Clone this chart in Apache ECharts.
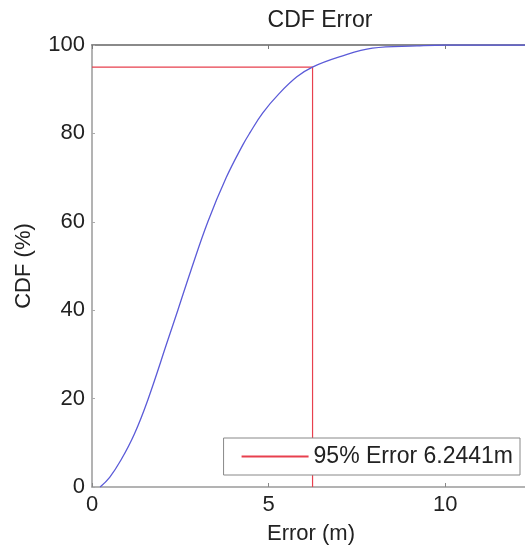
<!DOCTYPE html>
<html>
<head>
<meta charset="utf-8">
<script src="https://cdn.jsdelivr.net/npm/echarts@6/dist/echarts.min.js"></script>
<style>html,body{margin:0;padding:0;background:#fff;}#c{width:525px;height:548px;}</style>
</head>
<body>
<div id="c"></div>
<script>
const cdfErr = [0.23, 0.5, 0.82, 1.2, 1.58, 2.15, 2.43, 2.8, 3.28, 3.8, 4.27, 4.46, 4.83, 5.31, 5.8, 6.24, 7.0, 7.94, 9.2, 10.0, 12.4];
const cdfPct = [0, 2.2, 6.1, 12, 19.7, 33.3, 40, 49, 60, 70, 77.4, 80, 84.6, 89.1, 92.8, 95, 97.3, 99.3, 99.8, 100, 100];
const err95 = 6.2441;
const pct95 = 95;
const markerX = [0, err95, err95];
const markerY = [pct95, pct95, 0];
const legendName = '95% Error 6.2441m';
const xTicks = [0, 5, 10];
const yTicks = [0, 20, 40, 60, 80, 100];

const font = 'Liberation Sans, Arial, Helvetica, sans-serif';
const chart = echarts.init(document.getElementById('c'), null, {renderer: 'canvas'});
const axisCol = '#9a9a9a';
chart.setOption({
  animation: false,
  backgroundColor: '#fff',
  title: {
    text: 'CDF Error', left: 315, top: 4, textAlign: 'center',
    textStyle: {fontFamily: font, fontSize: 23, fontWeight: 'normal', color: '#222'}
  },
  grid: {left: 92, top: 45, width: 438, height: 442, containLabel: false, outerBoundsMode: 'none'},
  legend: {
    data: [legendName], right: 5, top: 438, orient: 'horizontal',
    itemWidth: 67, itemHeight: 14, itemGap: 0,
    padding: [7, 7, 7, 17],
    backgroundColor: '#fff', borderColor: '#888', borderWidth: 1,
    itemStyle: {color: 'rgba(0,0,0,0)', borderWidth: 0, opacity: 0},
    textStyle: {fontFamily: font, fontSize: 23, color: '#222'}
  },
  xAxis: [{
    type: 'value', min: 0, max: 12.4, interval: 5, position: 'bottom',
    name: 'Error (m)', nameLocation: 'middle', nameGap: 36,
    nameTextStyle: {fontFamily: font, fontSize: 22, color: '#222'},
    axisLine: {show: true, lineStyle: {color: axisCol, width: 1.5}},
    axisTick: {show: true, inside: true, length: 4, lineStyle: {color: '#888'}},
    axisLabel: {fontFamily: font, fontSize: 22, color: '#222', margin: 7,
      formatter: v => (xTicks.indexOf(v) >= 0 ? String(v) : '')},
    splitLine: {show: false}
  }, {
    type: 'value', min: 0, max: 12.4, interval: 5, position: 'top',
    axisLine: {show: true, lineStyle: {color: '#8a8a8a', width: 2}},
    axisTick: {show: true, inside: true, length: 4, lineStyle: {color: '#777'}},
    axisLabel: {show: false}, splitLine: {show: false}
  }],
  yAxis: [{
    type: 'value', min: 0, max: 100, interval: 20,
    name: 'CDF (%)', nameLocation: 'middle', nameGap: 57, nameRotate: 90,
    nameTextStyle: {fontFamily: font, fontSize: 22, color: '#222'},
    axisLine: {show: true, lineStyle: {color: axisCol, width: 1.5}},
    axisTick: {show: true, inside: true, length: 3, lineStyle: {color: '#aaa'}},
    axisLabel: {fontFamily: font, fontSize: 22, color: '#222', margin: 7,
      formatter: v => (yTicks.indexOf(v) >= 0 ? String(v) : '')},
    splitLine: {show: false}
  }],
  series: [{
    name: 'CDF', type: 'line', xAxisIndex: 0, yAxisIndex: 0,
    data: cdfErr.map((x, i) => [x, cdfPct[i]]),
    smooth: 0.4, symbol: 'none', clip: true,
    lineStyle: {color: '#5b5bd8', width: 1.3}
  }, {
    name: legendName, type: 'line', xAxisIndex: 0, yAxisIndex: 0,
    data: markerX.map((x, i) => [x, markerY[i]]),
    symbol: 'none', showSymbol: false, z: 1,
    itemStyle: {color: '#e8404e'},
    lineStyle: {color: '#e8404e', width: 1.2}
  }]
});
</script>
</body>
</html>
